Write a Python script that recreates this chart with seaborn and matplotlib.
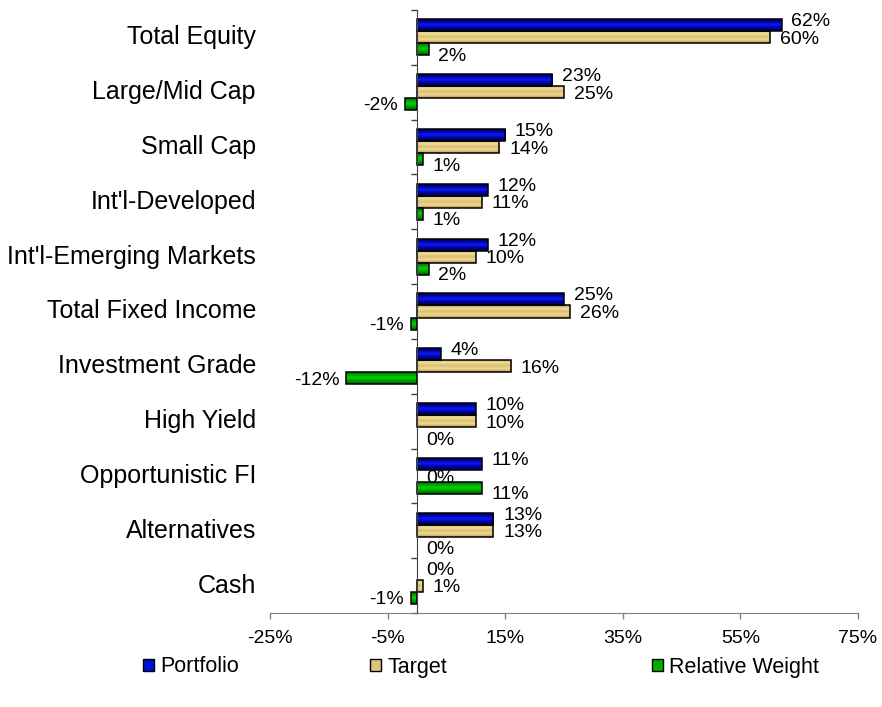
import numpy as np
import pandas as pd
import matplotlib
matplotlib.use("Agg")
import matplotlib.pyplot as plt
import matplotlib.patches as mpatches
import matplotlib.colors as mcolors
import seaborn as sns

categories = ['Total Equity', 'Large/Mid Cap', 'Small Cap', "Int'l-Developed",
              "Int'l-Emerging Markets", 'Total Fixed Income', 'Investment Grade',
              'High Yield', 'Opportunistic FI', 'Alternatives', 'Cash']
portfolio = [62, 23, 15, 12, 12, 25, 4, 10, 11, 13, 0]
target = [60, 25, 14, 11, 10, 26, 16, 10, 0, 13, 1]
relative = [2, -2, 1, 1, 2, -1, -12, 0, 11, 0, -1]
series_names = ['Portfolio', 'Target', 'Relative Weight']
x_ticks = [-25, -5, 15, 35, 55, 75]

sns.set_style('white')
plt.rcParams['font.family'] = ['Liberation Sans', 'DejaVu Sans']
plt.rcParams['text.color'] = 'black'
plt.rcParams['xtick.color'] = 'black'
plt.rcParams['ytick.color'] = 'black'

df = pd.DataFrame({
    'category': categories * 3,
    'series': sum([[s] * len(categories) for s in series_names], []),
    'value': portfolio + target + relative,
})

solid = ['#0010d0', '#dcc47c', '#00b000']
grad_stops = [
    ['#000050', '#000090', '#0a1cff', '#000090', '#000060'],
    ['#b8963c', '#f2e2a4', '#d9bd6c', '#f0dc98', '#b8923a'],
    ['#004e00', '#009a00', '#00d400', '#009a00', '#005800'],
]

fig = plt.figure(figsize=(8.82, 7.07), dpi=100)
ax = fig.add_axes([270 / 882, 1 - 613 / 707, 588 / 882, 603 / 707])

sns.barplot(data=df, y='category', x='value', hue='series', hue_order=series_names,
            order=categories, orient='h', palette=solid, width=0.66,
            errorbar=None, legend=False, ax=ax, saturation=1)

# gradient fills clipped to bars
for ci, cont in enumerate(ax.containers):
    cmap = mcolors.LinearSegmentedColormap.from_list(f'g{ci}', grad_stops[ci])
    grad = np.linspace(0, 1, 64).reshape(-1, 1)
    for bar in cont:
        w = bar.get_width()
        bar.set_edgecolor('black')
        bar.set_linewidth(1.1)
        bar.set_zorder(3)
        if abs(w) < 1e-9:
            bar.set_linewidth(0)
            continue
        bar.set_facecolor('none')
        x0 = bar.get_x()
        y0 = bar.get_y()
        h = bar.get_height()
        im = ax.imshow(grad, cmap=cmap, aspect='auto', interpolation='bicubic',
                       extent=[min(x0, x0 + w), max(x0, x0 + w), y0 + h, y0],
                       origin='upper', zorder=2.5)
        im.set_clip_path(bar)

# data labels
vals = [portfolio, target, relative]
for ci, cont in enumerate(ax.containers):
    for bar, v in zip(cont, vals[ci]):
        yc = bar.get_y() + bar.get_height() / 2
        if v >= 0:
            xe = bar.get_x() + max(bar.get_width(), 0)
            dx, ha = 7, 'left'
        else:
            xe = bar.get_x() + min(bar.get_width(), 0)
            dx, ha = -5, 'right'
        if ci == 0:
            dy = 2.5
        elif ci == 1:
            dy = -1.5
        else:
            dy = -5 if v >= 0 else -1.2
        ax.annotate(f'{v:.0f}%', xy=(xe, yc), xytext=(dx, dy),
                    textcoords='offset points', ha=ha, va='center',
                    fontsize=14, color='black', zorder=5)

ax.set_xlim(-25, 75)
ax.set_ylim(len(categories) - 0.5, -0.5)
ax.set_xticks(x_ticks)
ax.set_xticklabels([f'{t}%' for t in x_ticks], fontsize=14)
ax.set_xlabel('')
ax.set_ylabel('')

# y axis drawn at zero
ax.spines['left'].set_position(('data', 0))
ax.spines['left'].set_color('#404040')
ax.spines['left'].set_zorder(4)
ax.spines['bottom'].set_color('#808080')
ax.spines['top'].set_visible(False)
ax.spines['right'].set_visible(False)
ax.set_yticks(range(len(categories)))
ax.set_yticklabels([])
ax.tick_params(axis='y', which='major', length=0)
ax.set_yticks(np.arange(-0.5, len(categories), 1.0), minor=True)
ax.tick_params(axis='y', which='minor', length=4.5, width=1, color='#404040',
               direction='out', left=True)
ax.tick_params(axis='x', which='major', length=4.5, width=1, color='#808080',
               direction='out', bottom=True, pad=7.5, labelcolor='black')

trans = ax.get_yaxis_transform()
for i, c in enumerate(categories):
    ax.text(-0.024, i, c, transform=trans, ha='right', va='center',
            fontsize=18, color='black')

# legends
legend_x = [143 / 882, 370 / 882, 652 / 882]
for name, col, lx in zip(series_names, solid, legend_x):
    h = mpatches.Patch(facecolor=col, edgecolor='black', linewidth=1)
    fig.legend(handles=[h], labels=[name], loc='center left',
               bbox_to_anchor=(lx, 1 - 667 / 707), frameon=False, fontsize=15.5,
               handlelength=0.5, handleheight=0.5, handletextpad=0.3,
               borderpad=0, borderaxespad=0, labelcolor='black')

fig.savefig('out.png', dpi=100)
